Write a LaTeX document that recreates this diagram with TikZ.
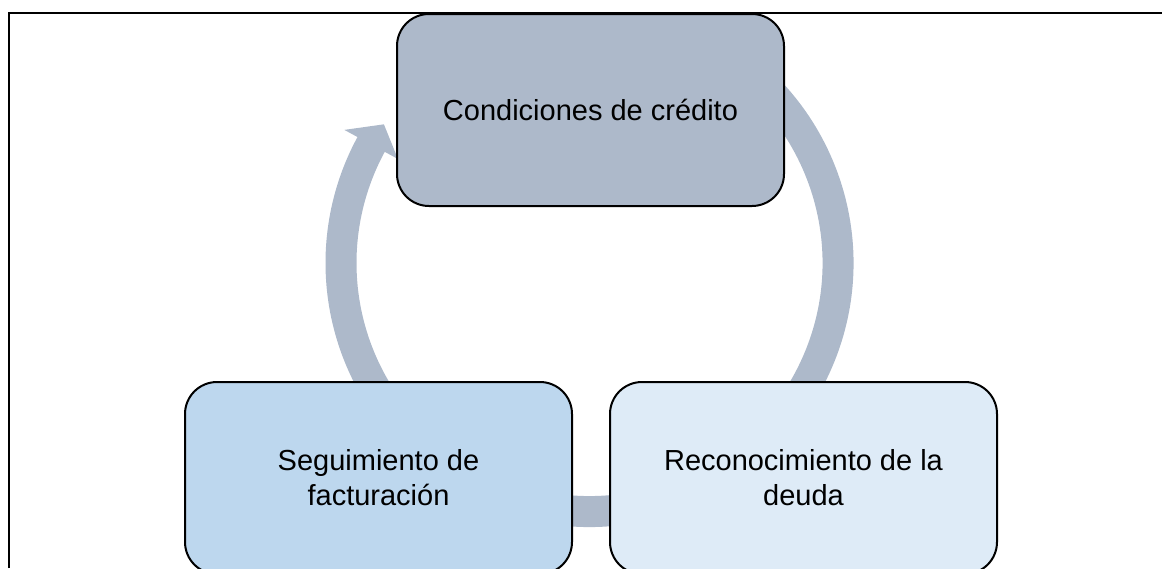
\documentclass[tikz,border=0pt]{standalone}
\usepackage{fontspec}
\setmainfont{Liberation Sans}
\definecolor{ringc}{RGB}{173,185,202}
\definecolor{topc}{RGB}{173,185,202}
\definecolor{leftc}{RGB}{189,215,238}
\definecolor{rightc}{RGB}{222,235,247}
\tikzset{
  box/.style={draw=black, line width=2pt, rounded corners=32pt,
    minimum width=387pt, minimum height=192pt, inner sep=0pt,
    align=center, font=\fontsize{29}{35}\selectfont},
  ring/.style={ringc, line width=31pt},
  frameline/.style={black, line width=2pt}
}
\begin{document}
\begin{tikzpicture}[x=1pt,y=1pt]
\useasboundingbox (0,0) rectangle (1162,-568);
\clip (0,0) rectangle (1162,-568);
\coordinate (c) at (589.5,-263);
% ring and arrowhead
\draw[ring] ([shift={(65:248.5pt)}]c) arc[start angle=65, end angle=-209, radius=248.5pt];
\fill[ringc] ([shift={(151.5:279pt)}]c) -- ([shift={(146:248pt)}]c) -- ([shift={(151.5:218pt)}]c) -- cycle;
% boxes
\node[box, fill=topc] (cond) at (590.5,-110) {Condiciones de crédito};
\node[box, fill=leftc] (seg) at (378.5,-478) {Seguimiento de\\facturación};
\node[box, fill=rightc] (rec) at (803.5,-478) {Reconocimiento de la\\deuda};
% frame
\draw[frameline] (8.5,-568) -- (8.5,-13) -- (1162,-13);
\end{tikzpicture}
\end{document}
